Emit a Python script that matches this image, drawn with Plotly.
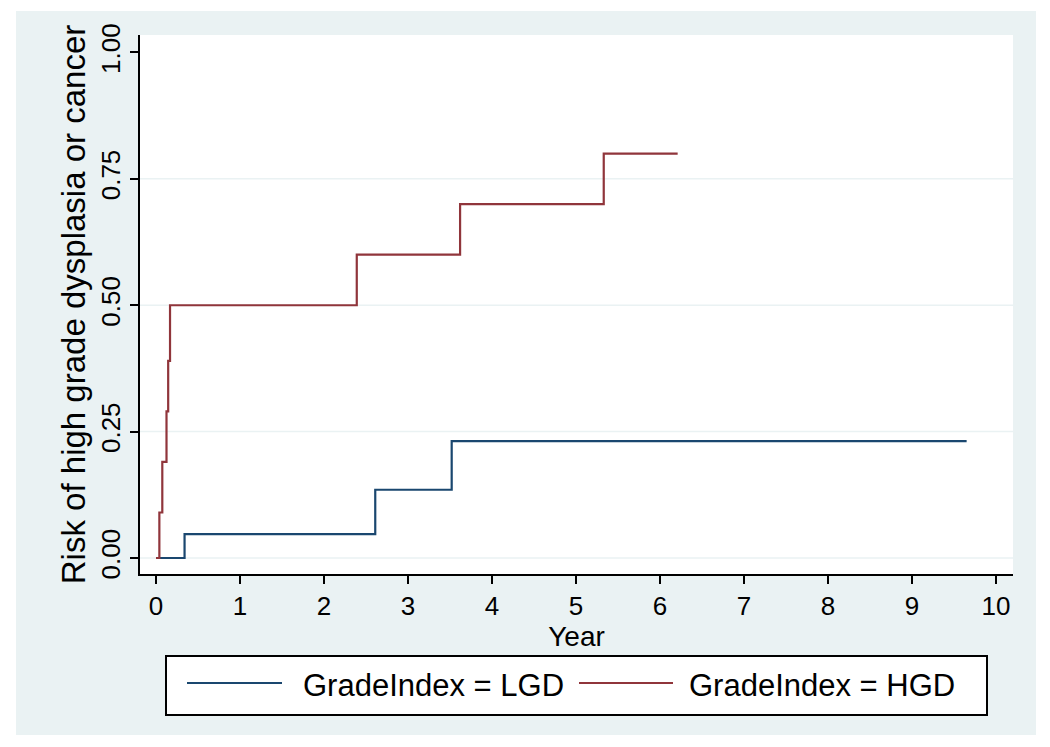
import plotly.graph_objects as go

# ---- data ----
lgd_years = [0, 0.34, 2.61, 3.52, 9.65]
lgd_risk = [0, 0.047, 0.135, 0.231, 0.231]
hgd_years = [0, 0.04, 0.075, 0.125, 0.145, 0.167, 2.39, 3.62, 5.33, 6.21]
hgd_risk = [0, 0.09, 0.19, 0.29, 0.39, 0.50, 0.60, 0.70, 0.80, 0.80]
series_names = ["GradeIndex = LGD", "GradeIndex = HGD"]
series_colors = ["#1A476F", "#90353B"]
x_ticks = list(range(0, 11))
y_ticks = [0, 0.25, 0.5, 0.75, 1.0]
y_ticklabels = ["0.00", "0.25", "0.50", "0.75", "1.00"]
y_grid = [0, 0.25, 0.5, 0.75]

W, H = 1050, 747
L, R, T, B = 140, 37, 35, 173
pw, ph = W - L - R, H - T - B
FONT = "Liberation Sans, Arial, sans-serif"
BG = "#EAF2F3"


def xp(px):
    return (px - L) / pw


def yp(py):
    return (H - B - py) / ph


fig = go.Figure()
for xs, ys, name, col in [(lgd_years, lgd_risk, series_names[0], series_colors[0]),
                          (hgd_years, hgd_risk, series_names[1], series_colors[1])]:
    fig.add_trace(go.Scatter(x=xs, y=ys, mode="lines", name=name,
                             line=dict(color=col, width=2.2, shape="hv"),
                             showlegend=False))

shapes = [
    # outer graph region
    dict(type="rect", xref="paper", yref="paper", x0=xp(16), x1=xp(1036),
         y0=yp(735), y1=yp(11), fillcolor=BG, line=dict(width=0), layer="below"),
    # plot region
    dict(type="rect", xref="paper", yref="paper", x0=0, x1=1, y0=0, y1=1,
         fillcolor="white", line=dict(width=0), layer="below"),
    # legend box
    dict(type="rect", xref="paper", yref="paper", x0=xp(166), x1=xp(987),
         y0=yp(715), y1=yp(656), fillcolor="white",
         line=dict(color="black", width=2), layer="above"),
]
for g in y_grid:
    shapes.append(dict(type="line", xref="paper", yref="y", x0=0, x1=1, y0=g, y1=g,
                       line=dict(color=BG, width=1.5), layer="below"))

annotations = []
legend_items = [(187, 282, 301), (579, 673, 687)]
for (sx0, sx1, tx), name, col in zip(legend_items, series_names, series_colors):
    shapes.append(dict(type="line", xref="paper", yref="paper", x0=xp(sx0), x1=xp(sx1),
                       y0=yp(683), y1=yp(683), line=dict(color=col, width=2), layer="above"))
    annotations.append(dict(xref="paper", yref="paper", x=xp(tx), y=yp(685), text=name,
                            showarrow=False, xanchor="left", yanchor="middle",
                            font=dict(family=FONT, size=31, color="black")))

fig.update_layout(
    width=W, height=H,
    margin=dict(l=L, r=R, t=T, b=B),
    paper_bgcolor="white", plot_bgcolor="white",
    shapes=shapes, annotations=annotations,
    showlegend=False,
    font=dict(family=FONT, color="black"),
)
fig.update_xaxes(
    range=[-0.1905, 10.202], tickmode="array", tickvals=x_ticks,
    ticktext=[str(t) for t in x_ticks],
    showgrid=False, zeroline=False, showline=True, linecolor="black", linewidth=2,
    ticks="outside", ticklen=8, tickwidth=1.5, tickcolor="black",
    tickfont=dict(size=26), title=dict(text="Year", font=dict(size=28), standoff=0),
)
fig.update_yaxes(
    range=[-0.0317, 1.0346], tickmode="array", tickvals=y_ticks, ticktext=y_ticklabels,
    tickangle=-90,
    showgrid=False, zeroline=False, showline=True, linecolor="black", linewidth=2,
    ticks="outside", ticklen=8, tickwidth=1.5, tickcolor="black",
    tickfont=dict(size=26),
    title=dict(text="Risk of high grade dysplasia or cancer", font=dict(size=33), standoff=0),
)

fig.write_html("out.html", config={"displayModeBar": False},
               post_script="document.body.style.margin='0';")
